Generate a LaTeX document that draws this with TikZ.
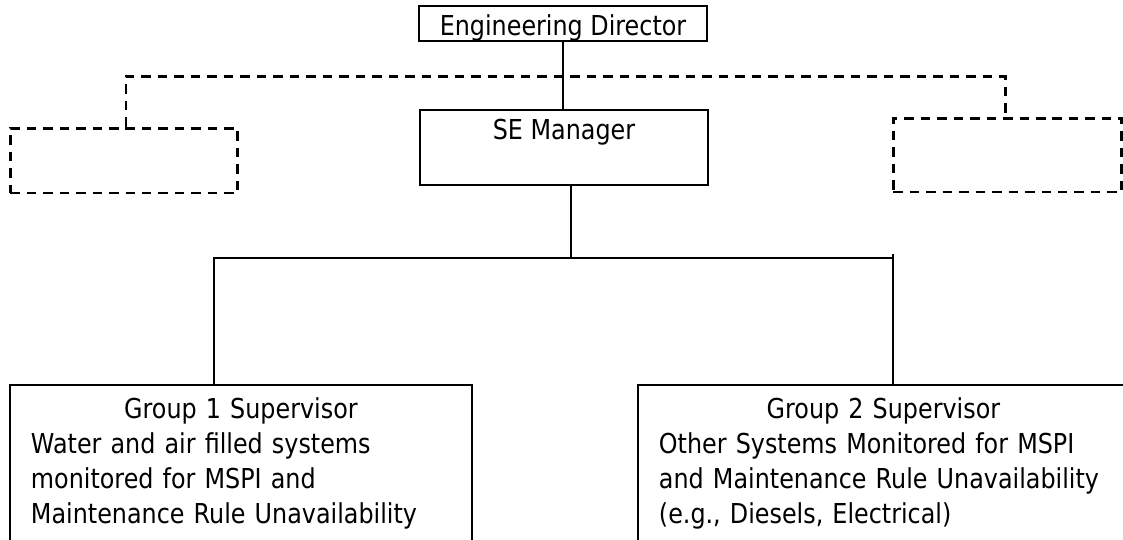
\documentclass[tikz,border=0pt]{standalone}
\usepackage{fontspec}
\setmainfont{DejaVu Sans}[FakeStretch=0.87]
\begin{document}
\begin{tikzpicture}[x=0.02cm,y=-0.02cm,
    every node/.style={font=\fontsize{15.6}{19.9}\selectfont},
    box/.style={draw,line width=1.1pt,inner sep=0pt,minimum width=5.76cm,text height=0.58cm},
    dashbox/.style={draw,line width=1.7pt,dash pattern=on 0.19cm off 0.14cm,inner sep=0pt},
    groupbox/.style={draw,line width=1.1pt,anchor=north west,align=left,text width=#1,inner xsep=0.42cm,inner ysep=0.26cm},
    link/.style={line width=1.1pt},
    dashlink/.style={line width=1.7pt,dash pattern=on 0.19cm off 0.14cm}]

    \useasboundingbox (0,0) rectangle (1123,539);

    \node[box,text depth=0.12cm] (director) at (563,23.5) {Engineering Director};
    \node[box,text depth=0.92cm] (semgr) at (564,147.5) {SE Manager};
    \node[dashbox,minimum width=4.56cm,minimum height=1.3cm] (lbox) at (124,160.5) {};
    \node[dashbox,minimum width=4.58cm,minimum height=1.48cm] (rbox) at (1007.5,155) {};

    \node[groupbox=8.4cm] (g1) at (9,384) {\makebox[\hsize]{Group 1 Supervisor}\\
        Water and air filled systems\\ monitored for MSPI and\\ Maintenance Rule Unavailability};
    \node[groupbox=8.98cm] (g2) at (637,384) {\makebox[\hsize]{Group 2 Supervisor}\\
        Other Systems Monitored for MSPI\\ and Maintenance Rule Unavailability\\ (e.g., Diesels, Electrical)};

    \coordinate (dashL) at (126,76);
    \coordinate (dashR) at (1005,76);
    \coordinate (busL) at (214,258);
    \coordinate (busM) at (571,258);
    \coordinate (busR) at (893,258);

    \draw[dashlink] (dashL |- lbox.north) -- (dashL) -- (dashR) -- (dashR |- rbox.north);
    \draw[link] (director.south) -- (director.south |- semgr.north);
    \draw[link] (semgr.south -| busM) -- (busM);
    \draw[link] (busL |- g1.north) -- (busL) -- (busR);
    \draw[link] ([yshift=0.08cm]busR) -- (busR |- g2.north);
\end{tikzpicture}
\end{document}
